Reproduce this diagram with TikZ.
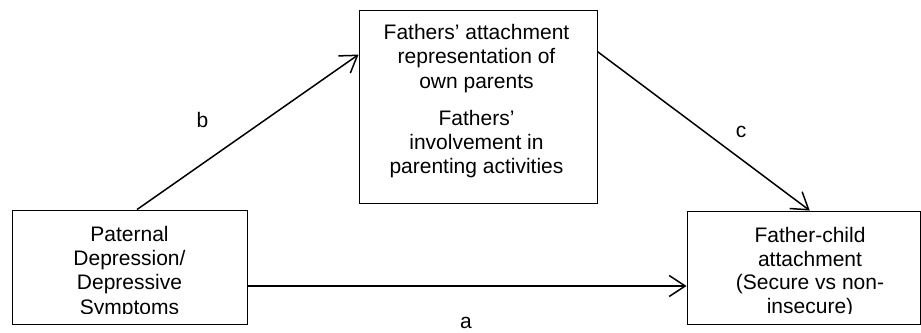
\documentclass[tikz,border=0pt]{standalone}
\usepackage{fontspec}
\setmainfont{Liberation Sans}
\usetikzlibrary{arrows.meta,calc}

\begin{document}
\begin{tikzpicture}[x=1pt,y=-1pt,
  box/.style={draw, rectangle, line width=0.9pt, inner sep=0pt},
  txt/.style={anchor=base, inner sep=0pt, font=\fontsize{21}{24}\selectfont},
  conn/.style={line width=1.5pt,
    -{Straight Barb[length=16pt,width=21pt,line width=1.5pt]}}]
  \useasboundingbox (0,0) rectangle (921,332);

  % boxes
  \node[box, minimum width=235pt, minimum height=114pt] (lbox) at (129.5,267) {};
  \node[box, minimum width=238pt, minimum height=193pt] (tbox) at (478,106.5) {};
  \node[box, minimum width=233.5pt, minimum height=113pt] (rbox) at (803.75,267.5) {};

  % mediator text
  \node[txt] (t1) at (476.5,39.5) {Fathers’ attachment};
  \node[txt] (t2) at (476.5,63.8) {representation of};
  \node[txt] (t3) at (476.5,88) {own parents};
  \node[txt] (t4) at (476.5,125) {Fathers’};
  \node[txt] (t5) at (476.5,149.3) {involvement in};
  \node[txt] (t6) at (476.5,173.6) {parenting activities};

  % predictor and outcome text, cut off at the lower text margin
  \begin{scope}
    \clip (0,0) rectangle (921,313.8);
    \node[txt] (l1) at (129.5,241.5) {Paternal};
    \node[txt] (l2) at (129.5,265.7) {Depression/};
    \node[txt] (l3) at (129.5,289.9) {Depressive};
    \node[txt] (l4) at (129.5,314.1) {Symptoms};
    \node[txt] (r1) at (810,242.5) {Father-child};
    \node[txt] (r2) at (810,266.2) {attachment};
    \node[txt] (r3) at (810,289.9) {(Secure vs non-};
    \node[txt] (r4) at (810,313.6) {insecure)};
  \end{scope}

  % paths
  \draw[conn] ($(lbox.north)+(7.5,0)$) -- ($(tbox.north west)+(0,45)$);
  \draw[conn] ($(tbox.north east)+(0,42)$) -- ($(rbox.north)+(6,0)$);
  \draw[conn] ($(lbox.east)+(0,19)$) -- ($(rbox.west)+(0,18.5)$);

  % path labels
  \node[txt] (la) at (466,328) {a};
  \node[txt] (lb) at (202.5,127) {b};
  \node[txt] (lc) at (741,137) {c};
\end{tikzpicture}
\end{document}
